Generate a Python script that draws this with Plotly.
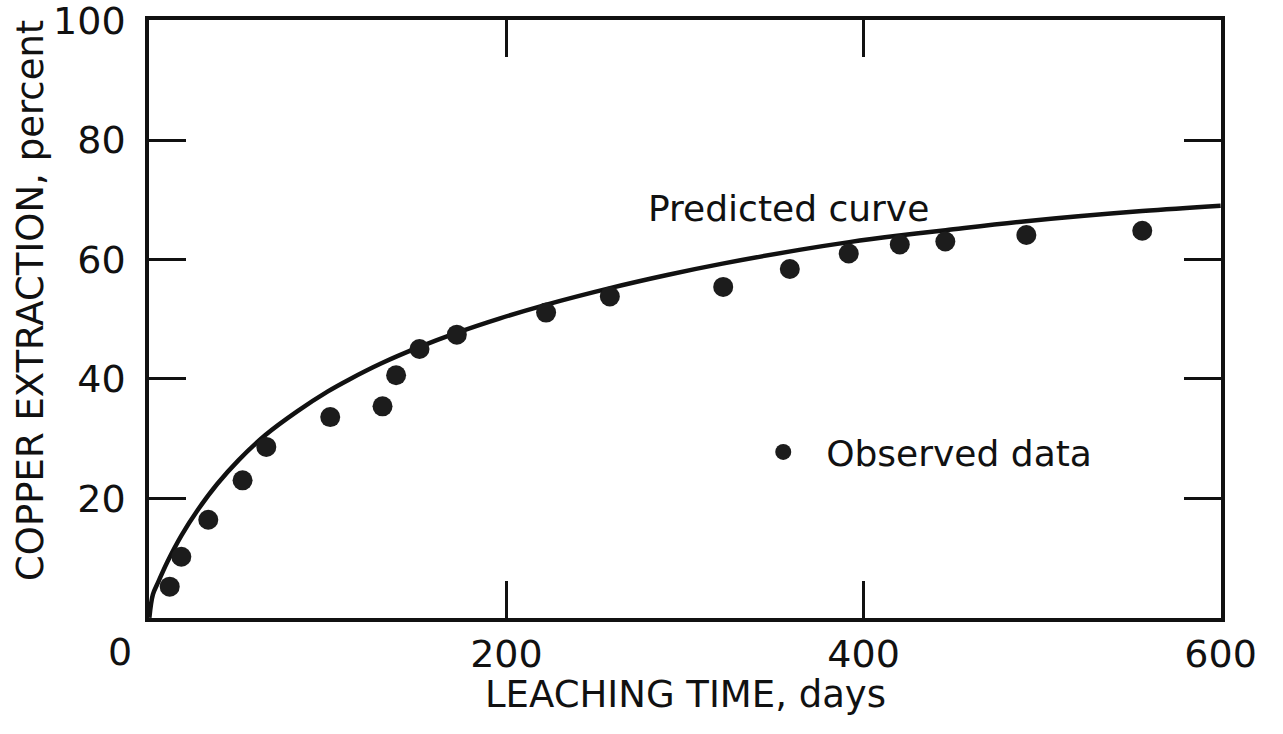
import plotly.graph_objects as go

# Observed copper extraction (percent) versus leaching time (days)
obs_days = [11.4, 17.9, 33.0, 52.2, 65.5, 101.3, 130.6, 138.2, 151.3, 172.2,
            222.2, 257.9, 321.4, 358.7, 391.7, 420.3, 445.8, 491.2, 556.1]
obs_pct = [5.2, 10.2, 16.4, 23.0, 28.6, 33.6, 35.4, 40.6, 45.0, 47.4,
           51.1, 53.8, 55.4, 58.4, 61.0, 62.5, 63.0, 64.1, 64.8]

# Predicted extraction curve
pred_days = [0, 2, 5, 10, 18, 27, 38, 50, 65, 83, 100, 112, 130, 151, 172,
             196, 222, 258, 290, 321, 364, 392, 420, 446, 491, 556, 600]
pred_pct = [0, 3.9, 6.0, 9.3, 13.8, 18.0, 22.4, 26.4, 30.6, 34.6, 37.9, 39.9,
            42.6, 45.3, 47.7, 50.1, 52.4, 55.2, 57.4, 59.3, 61.6, 62.9, 64.0,
            64.9, 66.4, 68.1, 69.0]

x_ticks = [0, 200, 400, 600]
x_tick_text = ["", "200", "400", "600"]
y_ticks = [0, 20, 40, 60, 80, 100]
y_tick_text = ["", "20", "40", "60", "80", "100"]

FONT = "DejaVu Sans"
INK = "#111111"

fig = go.Figure()

fig.add_trace(go.Scatter(
    x=pred_days, y=pred_pct, mode="lines",
    line=dict(color=INK, width=4.5, shape="spline", smoothing=1.0),
    showlegend=False, hoverinfo="skip",
))

fig.add_trace(go.Scatter(
    x=obs_days, y=obs_pct, mode="markers",
    name="\u00a0\u00a0Observed data",
    marker=dict(color="#1c1c1c", size=20, line=dict(width=0)),
    showlegend=True,
))

axis_common = dict(
    showgrid=False, zeroline=False,
    showline=True, linecolor=INK, linewidth=3.5,
    mirror="ticks", ticks="inside", ticklen=37, tickwidth=2.5, tickcolor=INK,
    tickfont=dict(family=FONT, size=38, color=INK),
    ticklabeloverflow="allow", automargin=False,
)

fig.update_xaxes(range=[-0.2, 600.2], tickvals=x_ticks, ticktext=x_tick_text,
                 ticklabelstandoff=0, **axis_common)
fig.update_yaxes(range=[-0.05, 100.1], tickvals=y_ticks, ticktext=y_tick_text,
                 ticklabelstandoff=12, **axis_common)

annotations = [
    # origin label shared by both axes
    dict(text="0", xref="paper", yref="paper", x=0, y=0, xanchor="center",
         yanchor="middle", xshift=-29, yshift=-34, showarrow=False,
         font=dict(family=FONT, size=38, color=INK)),
    # axis titles
    dict(text="LEACHING TIME, days", xref="paper", yref="paper", x=0.5, y=0,
         xanchor="center", yanchor="middle", yshift=-76, xshift=0,
         showarrow=False, font=dict(family=FONT, size=37, color=INK)),
    dict(text="COPPER EXTRACTION, percent", xref="paper", yref="paper",
         x=0, y=0.5, xanchor="center", yanchor="middle", xshift=-119,
         yshift=18, textangle=-90, showarrow=False,
         font=dict(family=FONT, size=37, color=INK)),
    # curve label
    dict(text="Predicted curve", x=358, y=68.5, xref="x", yref="y",
         xanchor="center", yanchor="middle", showarrow=False,
         font=dict(family=FONT, size=36, color=INK)),
]

fig.update_layout(
    width=1283, height=734,
    margin=dict(l=149, r=62, t=20, b=116, autoexpand=False),
    paper_bgcolor="white", plot_bgcolor="white",
    annotations=annotations,
    legend=dict(x=0.573, y=0.2776, xanchor="left", yanchor="middle",
                bgcolor="rgba(0,0,0,0)", borderwidth=0,
                font=dict(family=FONT, size=36, color=INK)),
)

fig.write_html("out.html")
